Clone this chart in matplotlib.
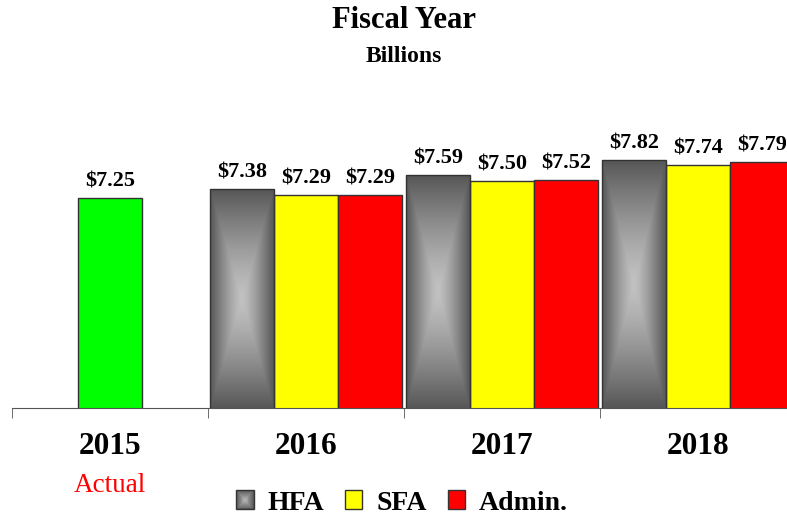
import numpy as np
import matplotlib
matplotlib.use('Agg')
import matplotlib.pyplot as plt
from matplotlib.patches import Rectangle, Patch
from matplotlib.legend_handler import HandlerBase
import matplotlib.transforms as mtransforms

plt.rcParams['font.family'] = 'Liberation Serif'

# data (billions)
years = ['2015', '2016', '2017', '2018']
actual_2015 = [7.25]
hfa = [7.38, 7.59, 7.82]
sfa = [7.29, 7.50, 7.74]
admin = [7.29, 7.52, 7.79]
series_names = ['HFA', 'SFA', 'Admin.']

W, H = 787, 517
ymin, ymax = 4.1, 8.0
fig = plt.figure(figsize=(W / 100, H / 100), dpi=100)
ax = fig.add_axes([12 / W, 109 / H, 784 / W, 260 / H])

bw = 0.3265
x_all = np.arange(len(years))
x_fc = x_all[1:]

green = ax.bar(x_all[:1], actual_2015, bw, color='#00ff00',
               edgecolor='#333333', linewidth=1, zorder=2)
b_hfa = ax.bar(x_fc - bw, hfa, bw, facecolor='none', edgecolor='#333333',
               linewidth=1, zorder=3)
b_sfa = ax.bar(x_fc, sfa, bw, color='#ffff00', edgecolor='#333333',
               linewidth=1, zorder=2)
b_adm = ax.bar(x_fc + bw, admin, bw, color='#ff0000', edgecolor='#333333',
               linewidth=1, zorder=2)

# gradient fill for HFA bars (rectangular path gradient, light centre)
ny, nx = 300, 80
U, V = np.meshgrid(np.linspace(-1, 1, nx), np.linspace(-1, 1, ny))
t = np.maximum(np.abs(U), np.abs(V))
shade = 0.34 + (0.76 - 0.34) * (1 - t ** 1.3)
for p in b_hfa:
    x0, w, h = p.get_x(), p.get_width(), p.get_height()
    ax.imshow(shade, cmap='gray', vmin=0, vmax=1, aspect='auto',
              extent=(x0, x0 + w, ymin, h), zorder=2, interpolation='bilinear')

ax.set_xlim(-0.5, 3.5)
ax.set_ylim(ymin, ymax)

# value labels
for bars in [green, b_hfa, b_sfa, b_adm]:
    for p in bars:
        v = p.get_height()
        ax.annotate('$%.2f' % v, (p.get_x() + p.get_width() / 2, v),
                    xytext=(0, 5), textcoords='offset points',
                    ha='center', va='bottom', fontsize=16, fontweight='bold')

# axis styling
for s in ['top', 'left', 'right']:
    ax.spines[s].set_visible(False)
ax.spines['bottom'].set_color('#555555')
ax.set_yticks([])
ax.set_xticks(x_all)
ax.set_xticklabels([])
ax.tick_params(axis='x', which='major', length=0)
ax.set_xticks(np.arange(-0.5, 4.0, 1.0), minor=True)
ax.tick_params(axis='x', which='minor', length=7.5, color='#555555', direction='out')

trans = mtransforms.blended_transform_factory(ax.transData, ax.transAxes)
for i, yr in enumerate(years):
    ax.text(i, -0.15, yr, transform=trans, ha='center', va='center',
            fontsize=22.5, fontweight='bold')
ax.text(0, -0.297, 'Actual', transform=trans, ha='center', va='center',
        fontsize=19.5, color='#ff0000')

fig.text(404 / W, 1 - 21 / H, 'Fiscal Year', ha='center', va='center',
         fontsize=22, fontweight='bold')
fig.text(404 / W, 1 - 57 / H, 'Billions', ha='center', va='center',
         fontsize=17, fontweight='bold')


class GradHandler(HandlerBase):
    def create_artists(self, legend, orig_handle, xdescent, ydescent,
                       width, height, fontsize, trans):
        arts = []
        n = 10
        for i in range(n):
            f = i / n
            c = 0.36 + 0.38 * f
            arts.append(Rectangle((-xdescent + width * f / 2, -ydescent + height * f / 2),
                                  width * (1 - f), height * (1 - f),
                                  facecolor=str(c), edgecolor='none', transform=trans))
        arts.append(Rectangle((-xdescent, -ydescent), width, height, facecolor='none',
                              edgecolor='#333333', linewidth=1, transform=trans))
        return arts


h_hfa = Patch(facecolor='#888888', label=series_names[0])
h_sfa = Patch(facecolor='#ffff00', edgecolor='#333333', label=series_names[1])
h_adm = Patch(facecolor='#ff0000', edgecolor='#333333', label=series_names[2])
fig.legend(handles=[h_hfa, h_sfa, h_adm], loc='center',
           bbox_to_anchor=(402 / W, 1 - 503 / H), ncol=3, frameon=False,
           prop={'size': 20, 'weight': 'bold'}, handlelength=0.62,
           handleheight=0.68, handletextpad=0.5, columnspacing=0.75,
           handler_map={h_hfa: GradHandler()})

fig.savefig('out.png', dpi=100)
